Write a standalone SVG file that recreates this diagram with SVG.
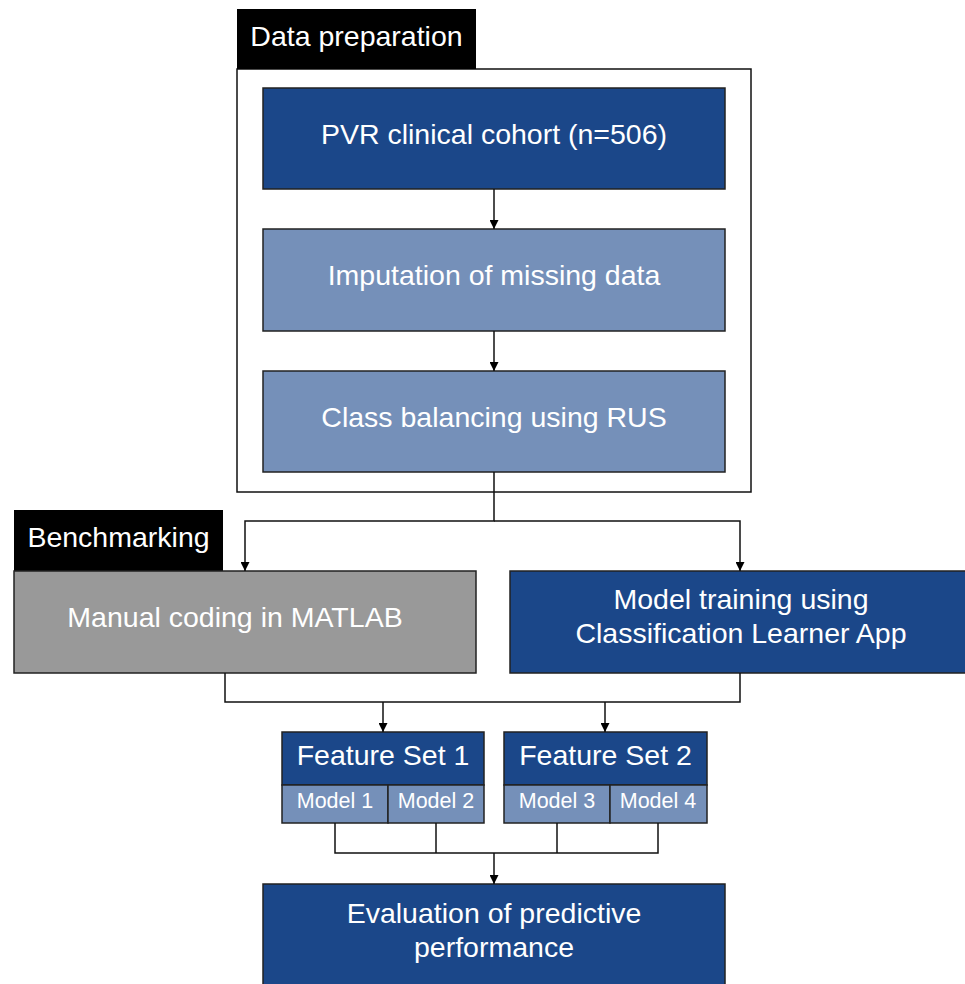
<svg xmlns="http://www.w3.org/2000/svg" width="965" height="984" viewBox="0 0 965 984">
<style>
text{font-family:"Liberation Sans",Arial,sans-serif;fill:#fff;text-anchor:middle}
.t{font-size:28.5px}
.s{font-size:21.5px}
.dark{fill:#1b4789;stroke:#222;stroke-width:1.5}
.light{fill:#7590b9;stroke:#222;stroke-width:1.5}
.grey{fill:#999;stroke:#222;stroke-width:1.5}
.lab{fill:#000}
.ln{fill:none;stroke:#111;stroke-width:1.5}
</style>
<defs>
<marker id="ah" viewBox="0 0 10 10" refX="10" refY="5" markerWidth="9" markerHeight="9" markerUnits="userSpaceOnUse" orient="auto">
<path d="M0,0 L10,5 L0,10 z" fill="#000"/>
</marker>
</defs>
<rect width="965" height="984" fill="#fff"/>
<g id="dataprep">
<rect x="237" y="69" width="514" height="423" fill="#fff" stroke="#111" stroke-width="1.5"/>
<rect class="lab" x="237" y="9" width="239" height="60"/>
<text class="t" x="356.5" y="46">Data preparation</text>
</g>
<g id="pvr">
<rect class="dark" x="263" y="88" width="462" height="101"/>
<text class="t" x="494" y="144">PVR clinical cohort (n=506)</text>
</g>
<g id="imputation">
<rect class="light" x="263" y="229" width="462" height="102"/>
<text class="t" x="494" y="285">Imputation of missing data</text>
</g>
<g id="balancing">
<rect class="light" x="263" y="371" width="462" height="101"/>
<text class="t" x="494" y="427">Class balancing using RUS</text>
</g>
<g id="manual">
<rect class="lab" x="14" y="510" width="209" height="61"/>
<text class="t" x="118.5" y="547">Benchmarking</text>
<rect class="grey" x="14" y="571" width="462" height="102"/>
<text class="t" x="235" y="627">Manual coding in MATLAB</text>
</g>
<g id="training">
<rect class="dark" x="510" y="571" width="460" height="102"/>
<text class="t" x="741" y="609">Model training using</text>
<text class="t" x="741" y="643">Classification Learner App</text>
</g>
<g id="fs1">
<rect class="dark" x="282" y="732" width="202" height="53"/>
<text class="t" x="383" y="765">Feature Set 1</text>
<rect class="light" x="282" y="785" width="106" height="38"/>
<rect class="light" x="388" y="785" width="96" height="38"/>
<text class="s" x="335" y="808">Model 1</text>
<text class="s" x="436" y="808">Model 2</text>
</g>
<g id="fs2">
<rect class="dark" x="504" y="732" width="203" height="53"/>
<text class="t" x="605.5" y="765">Feature Set 2</text>
<rect class="light" x="504" y="785" width="106" height="38"/>
<rect class="light" x="610" y="785" width="97" height="38"/>
<text class="s" x="557" y="808">Model 3</text>
<text class="s" x="658" y="808">Model 4</text>
</g>
<g id="evaluation">
<rect class="dark" x="263" y="884" width="462" height="110"/>
<text class="t" x="494" y="923">Evaluation of predictive</text>
<text class="t" x="494" y="957">performance</text>
</g>
<g id="connectors">
<line class="ln" x1="494" y1="189" x2="494" y2="229" marker-end="url(#ah)"/>
<line class="ln" x1="494" y1="331" x2="494" y2="371" marker-end="url(#ah)"/>
<polyline class="ln" points="494,472 494,521 245,521 245,571" marker-end="url(#ah)"/>
<polyline class="ln" points="494,521 740,521 740,571" marker-end="url(#ah)"/>
<polyline class="ln" points="225,673 225,702 740,702 740,673"/>
<line class="ln" x1="383" y1="702" x2="383" y2="732" marker-end="url(#ah)"/>
<line class="ln" x1="605" y1="702" x2="605" y2="732" marker-end="url(#ah)"/>
<polyline class="ln" points="335,823 335,853 658,853 658,823"/>
<line class="ln" x1="436" y1="823" x2="436" y2="853"/>
<line class="ln" x1="557" y1="823" x2="557" y2="853"/>
<line class="ln" x1="494" y1="853" x2="494" y2="884" marker-end="url(#ah)"/>
</g>
</svg>
